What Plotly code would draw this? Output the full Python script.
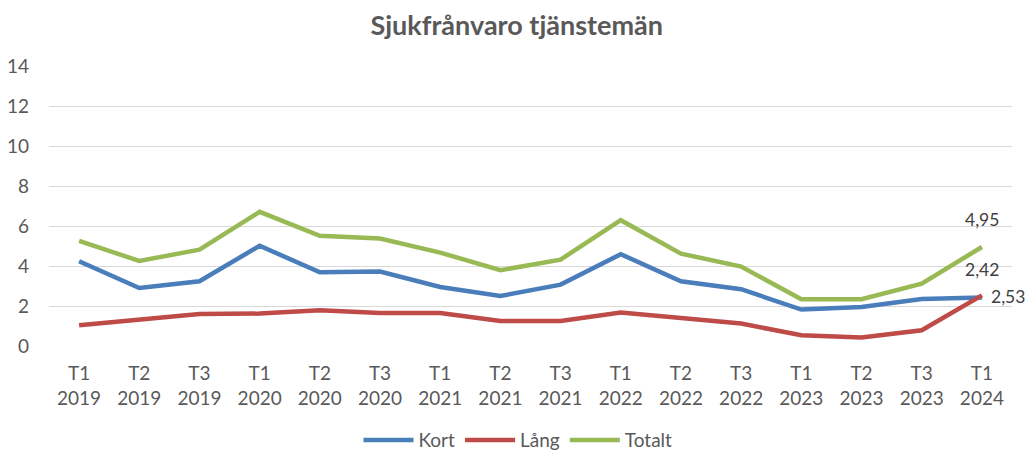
import plotly.graph_objects as go

categories = ["T1<br>2019", "T2<br>2019", "T3<br>2019", "T1<br>2020", "T2<br>2020", "T3<br>2020",
              "T1<br>2021", "T2<br>2021", "T3<br>2021", "T1<br>2022", "T2<br>2022", "T3<br>2022",
              "T1<br>2023", "T2<br>2023", "T3<br>2023", "T1<br>2024"]
kort = [4.24, 2.90, 3.24, 5.01, 3.69, 3.72, 2.95, 2.50, 3.07, 4.59, 3.24, 2.84, 1.82, 1.95, 2.35, 2.42]
lang = [1.04, 1.32, 1.60, 1.62, 1.79, 1.65, 1.65, 1.25, 1.25, 1.67, 1.40, 1.12, 0.54, 0.42, 0.79, 2.53]
totalt = [5.26, 4.25, 4.82, 6.71, 5.51, 5.37, 4.67, 3.79, 4.32, 6.29, 4.62, 3.97, 2.34, 2.34, 3.12, 4.95]
y_ticks = [0, 2, 4, 6, 8, 10, 12, 14]

FONT = "Lato"
TXT = "#595959"

def fmt(v):
    return f"{v:.2f}".replace(".", ",")

fig = go.Figure()
series = [
    ("Kort", kort, "#4A7EBB"),
    ("Lång", lang, "#BE4B48"),
    ("Totalt", totalt, "#98B954"),
]
for name, vals, col in series:
    fig.add_trace(go.Scatter(
        x=categories, y=vals, name=name, mode="lines",
        line=dict(color=col, width=4.5),
    ))

label_font = dict(family=FONT, size=17.5, color="#404040")
# data labels on the last point
fig.add_annotation(x=categories[-1], y=totalt[-1], text=fmt(totalt[-1]), showarrow=False,
                   yshift=28, font=label_font)
fig.add_annotation(x=categories[-1], y=kort[-1], text=fmt(kort[-1]), showarrow=False,
                   yshift=28, font=label_font)
fig.add_annotation(x=categories[-1], y=lang[-1], text=fmt(lang[-1]), showarrow=False,
                   xanchor="left", xshift=7, yshift=-1, font=label_font)

fig.update_layout(
    width=1034, height=447,
    paper_bgcolor="white", plot_bgcolor="white",
    margin=dict(l=41, r=30, t=58, b=109, autoexpand=False),
    title=dict(text="<b>Sjukfrånvaro tjänstemän</b>", x=0.492, xanchor="center",
               y=0.961, yanchor="middle",
               font=dict(family=FONT, size=27, color=TXT)),
    font=dict(family=FONT, size=19, color=TXT),
    xaxis=dict(type="category", range=[-0.5, len(categories) - 0.5], autorange=False,
               showgrid=False, showline=False, ticks="",
               automargin=False, ticklabelstandoff=14,
               tickfont=dict(family=FONT, size=19, color=TXT)),
    yaxis=dict(range=[0, 14], autorange=False, tickvals=y_ticks, showgrid=True,
               gridcolor="#D9D9D9", gridwidth=1, zeroline=False, showline=False, ticks="",
               automargin=False, ticklabelstandoff=19,
               tickfont=dict(family=FONT, size=19, color=TXT)),
    legend=dict(orientation="h", x=0.487, xanchor="center", y=-0.336, yanchor="middle",
                font=dict(family=FONT, size=19, color=TXT), itemwidth=50,
                tracegroupgap=0),
    showlegend=True,
)

fig.write_html("out.html")
